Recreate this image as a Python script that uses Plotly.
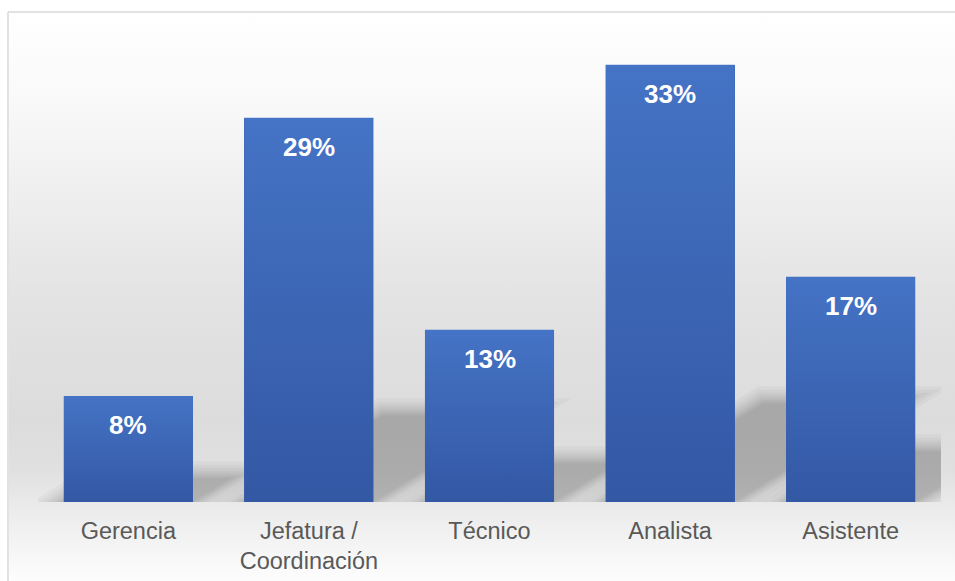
import urllib.parse
import plotly.graph_objects as go

# Distribution by position
categories = ["Gerencia", "Jefatura /<br>Coordinación", "Técnico", "Analista", "Asistente"]
values = [8, 29, 13, 33, 17]
value_labels = [f"{v}%" for v in values]

positions = list(range(len(categories)))
BAR_W = 0.715

W, H = 955, 581
ML, MR, MT, MB = 38, 14, 25, 79
PW, PH = W - ML - MR, H - MT - MB
Y_MAX = 36


def px_to_paper_x(px):
    return (px - ML) / PW


def px_to_paper_y(py):
    return (H - MB - py) / PH


fig = go.Figure()

# base bars
fig.add_trace(go.Bar(
    x=positions, y=values, width=BAR_W,
    marker=dict(color="#3C64B4", line=dict(width=0)),
    hoverinfo="skip", showlegend=False,
))

# vertical gradient laid over every bar
for i, v in zip(positions, values):
    x0, x1 = i - BAR_W / 2, i + BAR_W / 2
    fig.add_trace(go.Scatter(
        x=[x0, x1, x1, x0, x0], y=[0, 0, v, v, 0],
        mode="lines", fill="toself",
        fillgradient=dict(type="vertical",
                          colorscale=[[0, "#3358A4"], [1, "#4573C5"]]),
        line=dict(width=0, color="rgba(0,0,0,0)"),
        hoverinfo="skip", showlegend=False,
    ))

# soft perspective shadows cast up and to the right behind each bar
shapes = []
x_per_px = 1 / (PW / len(categories))
y_per_px = Y_MAX / PH
blur_widths = [34, 27, 21, 16, 11, 7, 3.5, 0.1]
for i, v in zip(positions, values):
    h_px = v / y_per_px
    dx = 0.36 * h_px * x_per_px
    dy = 0.225 * v
    x0, x1 = i - BAR_W / 2, i + BAR_W / 2
    path = (f"M {x0},0 L {x1},0 L {x1 + dx},{dy} "
            f"L {x0 + dx},{dy} Z")
    for lw in blur_widths:
        shapes.append(dict(
            type="path", path=path, xref="x", yref="y", layer="below",
            fillcolor="black", opacity=0.028,
            line=dict(color="black", width=lw),
        ))

# chart frame (left and top edges visible)
fx0, fy0 = px_to_paper_x(8), px_to_paper_y(12)
shapes.append(dict(type="line", xref="paper", yref="paper",
                   x0=fx0, x1=fx0, y0=px_to_paper_y(H + 5), y1=fy0,
                   line=dict(color="#d9d9d9", width=1.5)))
shapes.append(dict(type="line", xref="paper", yref="paper",
                   x0=fx0, x1=px_to_paper_x(W + 5), y0=fy0, y1=fy0,
                   line=dict(color="#d9d9d9", width=1.5)))

# chart area background: light vertical gradient
stops = [(12, "#ffffff"), (100, "#f9f9f9"), (200, "#eeeeee"), (300, "#e3e3e3"),
         (420, "#dcdcdc"), (470, "#e0e0e0"), (505, "#eaeaea"), (545, "#f4f4f4"),
         (581, "#fdfdfd")]
stop_xml = "".join(
    f'<stop offset="{(py - 12) / (581 - 12):.4f}" stop-color="{c}"/>' for py, c in stops)
svg = ('<svg xmlns="http://www.w3.org/2000/svg" width="100" height="100" '
       'preserveAspectRatio="none" viewBox="0 0 100 100">'
       '<defs><linearGradient id="g" x1="0" y1="0" x2="0" y2="1">'
       f'{stop_xml}</linearGradient></defs>'
       '<rect x="0" y="0" width="100" height="100" fill="url(#g)"/></svg>')
svg_uri = "data:image/svg+xml;charset=utf-8," + urllib.parse.quote(svg)

images = [dict(
    source=svg_uri, xref="paper", yref="paper",
    x=px_to_paper_x(9), y=px_to_paper_y(13),
    sizex=(W - 9) / PW, sizey=(H - 13) / PH,
    xanchor="left", yanchor="top", sizing="stretch", layer="below",
)]

# value labels inside the top of each bar
annotations = [dict(
    x=i, y=v, xref="x", yref="y", text=f"<b>{t}</b>", showarrow=False,
    yanchor="middle", yshift=-29,
    font=dict(family="Liberation Sans, Arial, sans-serif", size=26, color="white"),
) for i, v, t in zip(positions, values, value_labels)]

fig.update_layout(
    width=W, height=H,
    margin=dict(l=ML, r=MR, t=MT, b=MB, autoexpand=False),
    paper_bgcolor="white", plot_bgcolor="rgba(0,0,0,0)",
    shapes=shapes, images=images, annotations=annotations,
    bargap=0, showlegend=False,
    xaxis=dict(
        range=[-0.5, len(categories) - 0.5],
        tickvals=positions, ticktext=categories,
        tickfont=dict(family="Liberation Sans, Arial, sans-serif", size=23.5, color="#595959"),
        showgrid=False, zeroline=False, showline=False, ticks="",
        ticklabelstandoff=12, automargin=False, fixedrange=True,
    ),
    yaxis=dict(range=[0, Y_MAX], visible=False, fixedrange=True, automargin=False),
)

fig.write_html("out.html")
